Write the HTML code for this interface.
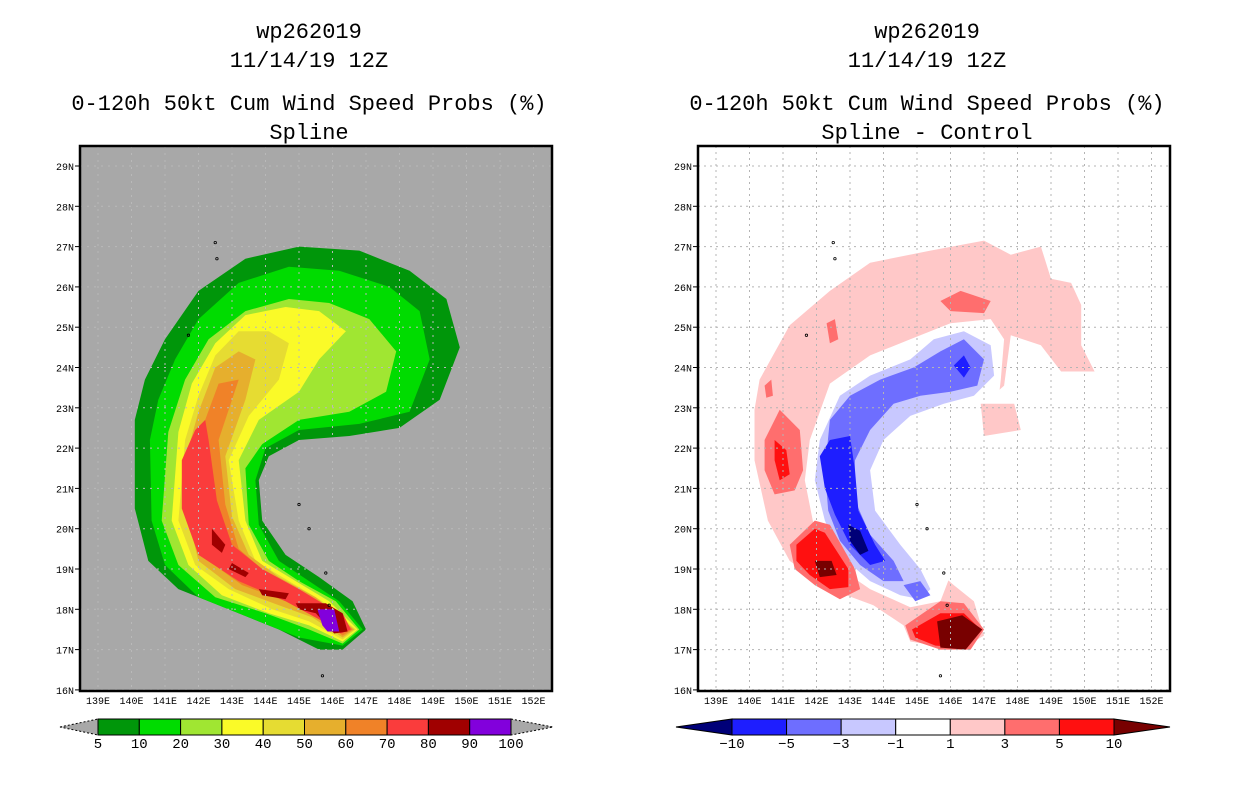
<!DOCTYPE html>
<html><head><meta charset="utf-8"><style>
html,body{margin:0;padding:0;background:#fff;}
svg{display:block;}
text{font-family:"Liberation Mono",monospace;}
</style></head><body>
<svg id="fig" width="1236" height="800" viewBox="0 0 1236 800" xmlns="http://www.w3.org/2000/svg"></svg>
<script>
// ---- data ----
const lonTicks=[139,140,141,142,143,144,145,146,147,148,149,150,151,152];
const latTicks=[16,17,18,19,20,21,22,23,24,25,26,27,28,29];
const leftLevels=["5","10","20","30","40","50","60","70","80","90","100"];
const leftColors=["#00960a","#00dc00","#a0e632","#fafa28","#e6dc32","#e6af2d","#f08228","#fa3c3c","#a00000","#8200dc"];
const rightLevels=["−10","−5","−3","−1","1","3","5","10"];
const rightColors=["#1e1eff","#6e6eff","#c8c8ff","#ffffff","#ffc8c8","#ff6e6e","#ff1010"];
const rightLow="#000078", rightHigh="#780000";
// left panel contour polygons [lon,lat]
const p05=[[146.3,17.0],[147.0,17.5],[146.6,18.2],[145.6,18.8],[144.6,19.35],[143.9,20.2],[143.8,21.2],[144.1,21.8],[145.0,22.2],[146.5,22.3],[148.0,22.5],[149.2,23.2],[149.8,24.5],[149.4,25.7],[148.3,26.4],[146.8,26.9],[145.0,27.0],[143.4,26.7],[142.0,25.9],[141.0,24.7],[140.4,23.7],[140.1,22.7],[140.1,20.5],[140.5,19.2],[141.4,18.5],[142.9,18.0],[144.4,17.5],[145.6,17.0]];
const p10=[[146.3,17.1],[146.9,17.5],[146.2,18.2],[145.3,18.7],[144.4,19.2],[143.8,20.1],[143.7,21.2],[144.0,22.0],[145.0,22.45],[146.8,22.6],[148.3,22.9],[148.9,24.2],[148.6,25.4],[147.7,26.0],[146.2,26.4],[144.7,26.5],[143.2,26.1],[142.0,25.2],[141.3,24.2],[140.8,23.2],[140.55,22.2],[140.6,20.2],[141.0,19.1],[142.0,18.3],[143.5,17.8],[145.0,17.3]];
const p20=[[146.3,17.15],[146.8,17.5],[146.1,18.2],[145.0,18.7],[144.1,19.2],[143.5,20.1],[143.4,21.5],[143.9,22.1],[145.0,22.7],[146.5,22.9],[147.6,23.4],[147.9,24.4],[147.1,25.2],[145.9,25.6],[144.7,25.7],[143.4,25.4],[142.3,24.7],[141.6,23.7],[141.1,22.4],[140.9,20.2],[141.4,19.1],[142.5,18.3],[144.0,17.9],[145.3,17.5]];
const p30=[[146.3,17.2],[146.75,17.5],[145.9,18.2],[144.9,18.7],[143.9,19.2],[143.4,20.2],[143.2,21.7],[143.8,22.7],[145.0,23.4],[145.6,24.2],[146.4,24.9],[145.6,25.4],[144.6,25.5],[143.4,25.3],[142.5,24.6],[141.8,23.6],[141.4,22.4],[141.2,20.2],[141.7,19.1],[142.7,18.35],[144.1,17.9],[145.3,17.6]];
const p40=[[146.3,17.25],[146.7,17.5],[145.7,18.2],[144.7,18.7],[143.7,19.2],[143.2,20.2],[142.9,21.7],[143.5,22.8],[144.4,23.7],[144.7,24.6],[144.1,24.9],[143.2,24.9],[142.5,24.3],[142.0,23.3],[141.6,22.2],[141.4,20.2],[141.9,19.1],[142.9,18.5],[144.2,18.0],[145.3,17.7]];
const p50=[[146.3,17.3],[146.65,17.5],[145.5,18.3],[144.4,18.8],[143.5,19.35],[143.0,20.3],[142.8,21.8],[143.4,23.2],[143.7,24.2],[143.2,24.4],[142.5,24.0],[142.0,22.9],[141.7,22.0],[141.7,20.2],[142.0,19.2],[143.1,18.5],[144.4,18.1],[145.4,17.8]];
const p60=[[146.3,17.35],[146.6,17.5],[146.0,18.0],[145.2,18.35],[144.1,18.85],[143.2,19.5],[142.8,20.6],[142.6,22.2],[143.2,23.7],[142.6,23.6],[142.2,22.7],[141.9,21.8],[141.8,20.2],[142.3,19.2],[143.3,18.6],[144.6,18.2],[145.6,17.8]];
const p70=[[146.25,17.4],[146.55,17.5],[146.3,17.9],[145.8,18.1],[145.0,18.5],[143.9,19.0],[143.0,19.6],[142.55,20.7],[142.3,22.2],[142.2,22.7],[141.9,22.45],[141.5,21.7],[141.5,20.5],[142.0,19.35],[143.2,18.7],[144.6,18.2],[145.6,17.75]];
const p80a=[[144.9,18.15],[145.8,18.15],[146.3,17.9],[146.45,17.45],[146.05,17.4],[145.5,17.9],[145.0,18.0]];
const p80b=[[142.4,20.0],[142.8,19.6],[142.7,19.4],[142.4,19.6]];
const p80c=[[143.0,19.15],[143.5,18.9],[143.4,18.8],[142.9,19.0]];
const p80d=[[143.8,18.5],[144.7,18.4],[144.6,18.25],[143.9,18.35]];
const p90=[[145.55,18.0],[146.05,18.0],[146.2,17.45],[145.85,17.45],[145.7,17.6]];
// right panel difference polygons
const pinkOuter=[[140.3,23.7],[141.2,25.05],[142.4,25.9],[143.6,26.6],[145.4,26.9],[147.0,27.15],[147.8,26.8],[148.7,27.0],[149.0,26.2],[149.6,26.1],[149.9,25.55],[149.9,24.55],[150.3,23.9],[149.3,23.9],[148.7,24.55],[147.8,24.8],[147.6,23.55],[147.0,23.1],[146.3,22.8],[145.5,22.4],[144.6,21.95],[144.1,21.3],[144.1,20.5],[144.6,19.7],[145.4,19.1],[146.1,18.6],[146.7,18.2],[147.0,17.35],[146.3,17.0],[144.8,17.2],[144.6,17.6],[143.7,18.1],[142.4,18.5],[141.2,19.2],[140.55,20.2],[140.15,21.7],[140.15,22.95]];
const whiteInner=[[141.8,22.2],[142.4,23.6],[143.6,24.3],[144.8,24.7],[146.0,25.1],[147.2,25.2],[147.6,24.7],[147.5,23.7],[147.25,21.9],[145.7,20.2],[146.0,18.85],[145.7,18.2],[144.8,18.05],[143.6,18.5],[142.55,19.1],[141.95,19.95],[141.65,21.2]];
const pinkPatch=[[146.9,23.1],[147.9,23.1],[148.1,22.45],[147.0,22.3]];
const lightBlue=[[142.1,22.2],[142.7,23.3],[143.6,23.8],[144.8,24.2],[145.5,24.7],[146.4,24.9],[147.2,24.55],[147.3,23.8],[146.7,23.3],[145.8,23.1],[144.8,22.8],[144.0,22.2],[143.6,21.45],[143.75,20.45],[144.5,19.6],[145.1,19.0],[145.4,18.5],[145.1,18.25],[144.5,18.35],[143.6,18.7],[142.7,19.35],[142.25,20.2],[141.95,21.2]];
const medBlue=[[142.25,21.45],[142.4,22.7],[143.0,23.3],[143.9,23.7],[144.9,24.0],[145.7,24.4],[146.4,24.7],[147.0,24.2],[146.8,23.55],[146.0,23.4],[145.1,23.3],[144.3,23.1],[143.6,22.45],[143.15,21.7],[143.15,20.7],[143.6,19.85],[144.3,19.2],[144.6,18.7],[144.0,18.7],[143.3,19.1],[142.7,19.7],[142.35,20.45]];
const medBlue2=[[144.6,18.6],[145.1,18.7],[145.4,18.35],[144.95,18.2]];
const blue1=[[142.1,21.8],[142.4,22.2],[143.0,22.3],[143.15,21.45],[143.25,20.45],[143.75,19.6],[144.05,19.2],[143.6,19.1],[143.0,19.6],[142.55,20.35],[142.25,21.0]];
const blueTop=[[146.1,24.05],[146.4,24.3],[146.6,24.0],[146.4,23.75]];
const navy1=[[142.95,20.1],[143.3,19.95],[143.55,19.45],[143.3,19.35],[143.0,19.7]];
const salmonLeft=[[140.45,22.2],[140.9,22.95],[141.5,22.45],[141.6,21.45],[141.35,20.95],[140.75,20.85],[140.45,21.45]];
const redLeft=[[140.75,22.2],[141.1,21.95],[141.2,21.35],[140.9,21.2],[140.75,21.7]];
const salmonLow=[[141.2,19.6],[141.95,20.2],[142.4,20.1],[143.15,19.0],[143.3,18.5],[142.7,18.25],[141.95,18.6],[141.35,19.0]];
const redLow=[[141.4,19.6],[141.95,20.0],[142.25,19.9],[142.95,19.0],[142.95,18.55],[142.4,18.5],[141.8,18.85],[141.4,19.2]];
const darkLow=[[141.95,19.2],[142.45,19.2],[142.6,18.85],[142.1,18.8]];
const salmonBot=[[144.65,17.6],[145.7,18.2],[146.4,18.15],[147.0,17.5],[146.6,17.0],[145.7,17.0],[144.8,17.25]];
const redBot=[[144.85,17.5],[145.7,17.9],[146.4,17.9],[146.9,17.5],[146.5,17.05],[145.55,17.1],[144.95,17.3]];
const darkBot=[[145.6,17.7],[146.35,17.85],[146.95,17.5],[146.45,17.0],[145.7,17.05]];
const salmonTop=[[145.7,25.65],[146.3,25.9],[147.2,25.65],[147.0,25.35],[146.0,25.4]];
const salmonS1=[[142.3,25.1],[142.55,25.2],[142.65,24.7],[142.4,24.6]];
const salmonS2=[[140.45,23.55],[140.65,23.7],[140.7,23.3],[140.5,23.25]];
const islands=[[142.5,27.1],[142.55,26.7],[145.0,20.6],[145.3,20.0],[145.8,18.9],[145.9,18.1],[145.7,16.35],[141.7,24.8]];

const NS="http://www.w3.org/2000/svg";
const svg=document.getElementById('fig');
function mk(tag,attrs,parent){const e=document.createElementNS(NS,tag);for(const k in attrs)e.setAttribute(k,attrs[k]);(parent||svg).appendChild(e);return e;}
function txt(x,y,s,size,anchor,parent){const t=mk('text',{x:x,y:y,'font-size':size,'text-anchor':anchor||'middle',fill:'#000'},parent);t.textContent=s;return t;}

function panel(x0,name){
  const X=lon=>x0+18+(lon-139)*33.5;
  const Y=lat=>166+(29-lat)*40.3;
  const g=mk('g',{});
  
  
  return {g,X,Y,x0,x1:x0+472,y0:146,y1:691};
}
function poly(P,pts,fill,name){
  const d=pts.map(p=>P.X(p[0]).toFixed(1)+','+P.Y(p[1]).toFixed(1)).join(' ');
  const e=mk('polygon',{points:d,fill:fill},P.g);
  
  
}
function frame(P,gridColor,dash){
  for(const lon of lonTicks){const x=P.X(lon);mk('line',{x1:x,y1:P.y0,x2:x,y2:P.y1,stroke:gridColor,'stroke-width':1,'stroke-dasharray':dash},P.g);
    const t=txt(x,704,lon+'E',10,'middle',P.g);}
  for(const lat of latTicks){const y=P.Y(lat);mk('line',{x1:P.x0,y1:y,x2:P.x1,y2:y,stroke:gridColor,'stroke-width':1,'stroke-dasharray':dash},P.g);
    mk('line',{x1:P.x0-5,y1:y,x2:P.x0,y2:y,stroke:'#000','stroke-width':1},P.g);
    const t=txt(P.x0-6,y+4,lat+'N',10,'end',P.g);}
  for(const p of islands){const c=mk('circle',{cx:P.X(p[0]),cy:P.Y(p[1]),r:1.2,fill:'none',stroke:'#000','stroke-width':0.8},P.g);
    }
  const r=mk('rect',{x:P.x0,y:P.y0,width:P.x1-P.x0,height:P.y1-P.y0,fill:'none',stroke:'#000','stroke-width':2.5},P.g);
  
}
function titles(cx,sub,name){
  const lines=[['wp262019',38],['11/14/19 12Z',67],['0-120h 50kt Cum Wind Speed Probs (%)',110],[sub,139]];
  lines.forEach((l,i)=>{const t=txt(cx,l[1],l[0],22,'middle');});
}

// Left panel
const L=panel(80,'left-map');
mk('rect',{x:80,y:146,width:472,height:545,fill:'#a8a8a8'},L.g);
[p05,p10,p20,p30,p40,p50,p60,p70].forEach((p,i)=>poly(L,p,leftColors[i],'prob-contour-'+leftLevels[i]));
[p80a,p80b,p80c,p80d].forEach(p=>poly(L,p,leftColors[8],'prob-contour-80'));
poly(L,p90,leftColors[9],'prob-contour-90');
frame(L,'#b9b9b9','2,5');
titles(309,'Spline','left');

// Right panel
const R=panel(698,'right-map');
mk('rect',{x:698,y:146,width:472,height:545,fill:'#fff'},R.g);
poly(R,pinkOuter,rightColors[4],'diff-pink-1-3');
poly(R,whiteInner,'#ffffff','diff-white');
poly(R,pinkPatch,rightColors[4],'diff-pink-patch');
poly(R,lightBlue,rightColors[2],'diff-lightblue');
poly(R,medBlue,rightColors[1],'diff-medblue');
poly(R,medBlue2,rightColors[1],'diff-medblue');
poly(R,blue1,rightColors[0],'diff-blue');
poly(R,blueTop,rightColors[0],'diff-blue');
poly(R,navy1,rightLow,'diff-navy');
[salmonLeft,salmonLow,salmonBot,salmonTop,salmonS1,salmonS2].forEach(p=>poly(R,p,rightColors[5],'diff-salmon'));
[redLeft,redLow,redBot].forEach(p=>poly(R,p,rightColors[6],'diff-red'));
[darkLow,darkBot].forEach(p=>poly(R,p,rightHigh,'diff-darkred'));
frame(R,'#b4b4b4','2,4');
titles(927,'Spline - Control','right');

// Colorbars
function colorbar(x0,x1,tL,tR,colors,labels,lowC,highC,name){
  const g=mk('g',{});
  const yT=719,yB=735,yM=727,w=(x1-x0)/colors.length;
  mk('polygon',{points:`${tL},${yM} ${x0},${yT} ${x0},${yB}`,fill:lowC,stroke:'#000','stroke-width':1,'stroke-dasharray':lowC=='#a8a8a8'?'2,2':''},g);
  mk('polygon',{points:`${x1},${yT} ${tR},${yM} ${x1},${yB}`,fill:highC,stroke:'#000','stroke-width':1,'stroke-dasharray':highC=='#a8a8a8'?'2,2':''},g);
  colors.forEach((c,i)=>{const r=mk('rect',{x:x0+i*w,y:yT,width:w,height:yB-yT,fill:c,stroke:'#000','stroke-width':1},g);
    });
  labels.forEach((s,i)=>{const t=txt(x0+i*w,748,s,14,'middle',g);});
}
colorbar(98,511,60,553,leftColors,leftLevels,'#a8a8a8','#a8a8a8','left-colorbar');
colorbar(732,1114,676,1170,rightColors,rightLevels,rightLow,rightHigh,'right-colorbar');
</script>
</body></html>
